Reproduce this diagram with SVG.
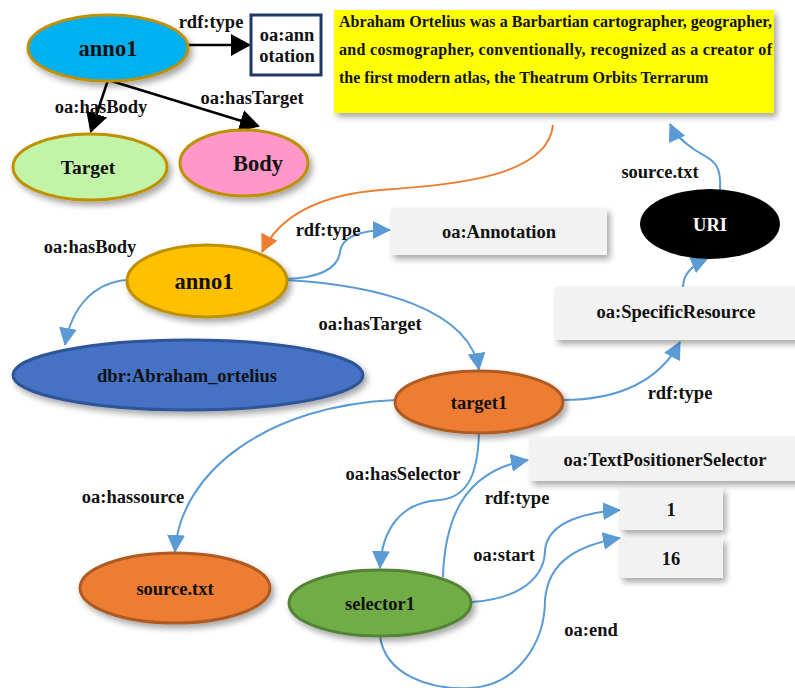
<svg xmlns="http://www.w3.org/2000/svg" width="795" height="688" viewBox="0 0 795 688">
<defs>
<filter id="sh" x="-20%" y="-20%" width="150%" height="160%">
<feDropShadow dx="3" dy="4" stdDeviation="3" flood-color="#000" flood-opacity="0.35"/>
</filter>
<marker id="ab" markerWidth="20" markerHeight="22" refX="18" refY="11" orient="auto" markerUnits="userSpaceOnUse">
<path d="M0,0 L20,11 L0,22 Z" fill="#000"/>
</marker>
<marker id="ablue" markerWidth="18" markerHeight="18" refX="17" refY="9" orient="auto" markerUnits="userSpaceOnUse">
<path d="M0,0 L18,9 L0,18 Z" fill="#5B9BD5"/>
</marker>
<marker id="aor" markerWidth="18" markerHeight="18" refX="17" refY="9" orient="auto" markerUnits="userSpaceOnUse">
<path d="M0,0 L18,9 L0,18 Z" fill="#ED7D31"/>
</marker>
</defs>
<style>
text{font-weight:bold;fill:#111;}
.lbl{font-size:18.5px;text-anchor:middle;}
.nt{font-size:18.5px;text-anchor:middle;}
.big{font-size:22.5px;text-anchor:middle;}
.blk{fill:none;stroke:#000;stroke-width:2.5;marker-end:url(#ab);}
.bl{fill:none;stroke:#5B9BD5;stroke-width:2;marker-end:url(#ablue);}
.box{fill:#F2F2F2;filter:url(#sh);}
.para{font-size:16px;}
</style>
<g font-family="Liberation Serif, Times New Roman, serif">
<g id="connectors">
<path class="blk" d="M188,45 L249,45"/>
<path class="blk" d="M108,80 L91,131"/>
<path class="blk" d="M108,80 L258,126"/>
<path fill="none" stroke="#ED7D31" stroke-width="2" marker-end="url(#aor)" d="M553,125 C548,175 460,185 380,190 C320,195 280,215 262,252"/>
<path class="bl" d="M285,279 C320,278 338,268 340,252 C342,236 360,230 390,230"/>
<path class="bl" d="M126,280 C95,283 72,305 65,345"/>
<path class="bl" d="M285,280 C380,285 470,310 479,370"/>
<path class="bl" d="M563,400 C620,400 660,380 680,342"/>
<path class="bl" d="M683,287 C683,275 692,265 708,258"/>
<path class="bl" d="M720,190 C722,160 710,160 695,150 C683,142 675,135 670,124"/>
<path class="bl" d="M396,400 C270,405 180,470 175,552"/>
<path class="bl" d="M479,432 C478,470 470,497 440,500 C400,502 382,530 380,568"/>
<path class="bl" d="M443,577 C445,510 470,470 528,460"/>
<path class="bl" d="M472,602 C530,598 545,570 545,550 C548,520 590,512 620,510"/>
<path class="bl" d="M380,636 C385,675 430,690 470,688 C520,685 545,640 545,600 C548,560 580,545 620,538"/>
<text class="lbl" x="211" y="28">rdf:type</text>
<text class="lbl" x="101" y="113">oa:hasBody</text>
<text class="lbl" x="252" y="104">oa:hasTarget</text>
<text class="lbl" x="90" y="253">oa:hasBody</text>
<text class="lbl" x="328" y="236">rdf:type</text>
<text class="lbl" x="370" y="330">oa:hasTarget</text>
<text class="lbl" x="680" y="399">rdf:type</text>
<text class="lbl" x="660" y="178">source.txt</text>
<text class="lbl" x="133" y="503">oa:hassource</text>
<text class="lbl" x="403" y="480">oa:hasSelector</text>
<text class="lbl" x="517" y="504">rdf:type</text>
<text class="lbl" x="504" y="561">oa:start</text>
<text class="lbl" x="591" y="636">oa:end</text>
</g>

<g id="anno1_top">
<ellipse cx="108" cy="48" rx="80" ry="33" fill="#00B0F0" stroke="#BF9000" stroke-width="3" filter="url(#sh)"/>
<text class="big" x="108" y="56">anno1</text>
</g>
<g id="oa_annotation_box">
<rect x="251" y="15" width="70" height="60" fill="#fff" stroke="#203864" stroke-width="3"/>
<text class="lbl" x="287" y="41">oa:ann</text>
<text class="lbl" x="287" y="62">otation</text>
</g>
<g id="target_top">
<ellipse cx="90" cy="167" rx="77" ry="33" fill="#C2F4A8" stroke="#BF9000" stroke-width="3" filter="url(#sh)"/>
<text class="nt" x="88" y="174" style="font-size:19.5px">Target</text>
</g>
<g id="body_top">
<ellipse cx="244" cy="163" rx="64" ry="33" fill="#FF97C8" stroke="#BF9000" stroke-width="3" filter="url(#sh)"/>
<text class="big" x="258" y="171">Body</text>
</g>
<g id="text_box">
<rect x="334" y="10" width="440" height="103" fill="#FFFF00" filter="url(#sh)"/>
<text class="para" x="339" y="27" textLength="433" lengthAdjust="spacing">Abraham Ortelius was a Barbartian cartographer, geographer,</text>
<text class="para" x="339" y="55" textLength="433" lengthAdjust="spacing">and cosmographer, conventionally, recognized as a creator of</text>
<text class="para" x="339" y="83">the first modern atlas, the Theatrum Orbits Terrarum</text>
</g>
<g id="oa_Annotation">
<rect class="box" x="391" y="208" width="216" height="47"/>
<text class="nt" x="499" y="238">oa:Annotation</text>
</g>
<g id="anno1">
<ellipse cx="207" cy="281" rx="80" ry="36" fill="#FFC000" stroke="#BF9000" stroke-width="3" filter="url(#sh)"/>
<text class="big" x="204" y="289">anno1</text>
</g>
<g id="dbr">
<ellipse cx="188" cy="375" rx="175" ry="35" fill="#4472C4" stroke="#2F5597" stroke-width="3" filter="url(#sh)"/>
<text class="nt" x="187" y="382">dbr:Abraham_ortelius</text>
</g>
<g id="target1">
<ellipse cx="479" cy="402" rx="84" ry="31" fill="#ED7D31" stroke="#AE5A21" stroke-width="3" filter="url(#sh)"/>
<text class="nt" x="479" y="409">target1</text>
</g>
<g id="specific_resource">
<rect class="box" x="555" y="287" width="245" height="53"/>
<text class="nt" x="676" y="318">oa:SpecificResource</text>
</g>
<g id="uri">
<ellipse cx="710" cy="224" rx="70" ry="35" fill="#000"/>
<text class="nt" x="710" y="231" style="fill:#fff">URI</text>
</g>
<g id="source_txt">
<ellipse cx="175" cy="588" rx="95" ry="35" fill="#ED7D31" stroke="#AE5A21" stroke-width="3" filter="url(#sh)"/>
<text class="nt" x="175" y="595">source.txt</text>
</g>
<g id="selector1">
<ellipse cx="380" cy="603" rx="91" ry="33" fill="#70AD47" stroke="#548235" stroke-width="3" filter="url(#sh)"/>
<text class="nt" x="380" y="610">selector1</text>
</g>
<g id="tps">
<rect class="box" x="530" y="437" width="270" height="44"/>
<text class="nt" x="665" y="466">oa:TextPositionerSelector</text>
</g>
<g id="v1">
<rect class="box" x="620" y="488" width="103" height="42"/>
<text class="nt" x="671" y="516">1</text>
</g>
<g id="v16">
<rect class="box" x="620" y="538" width="103" height="40"/>
<text class="nt" x="671" y="565">16</text>
</g>
</g>
</svg>
